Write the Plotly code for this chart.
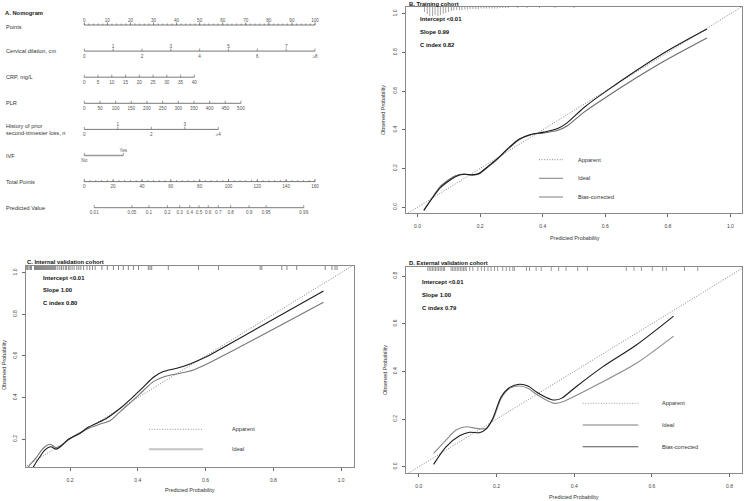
import numpy as np
import plotly.graph_objects as go

FONT = "Liberation Sans, Arial, sans-serif"

# ---------------- Nomogram (panel A) data ----------------
row_names = ["Points", "Cervical dilation, cm", "CRP, mg/L", "PLR",
             "History of prior<br>second-trimester loss, n", "IVF",
             "Total Points", "Predicted Value"]
points_major = list(range(0, 101, 10))
points_minor = list(range(0, 101, 2))
cervical_vals = [0, 1, 2, 3, 4, 5, 6, 7, 8]
cervical_labels = ["0", "1", "2", "3", "4", "5", "6", "7", "≥8"]
cervical_max_points = 100.0
crp_vals = [0, 5, 10, 15, 20, 25, 30, 35, 40]
crp_max_points = 47.7
plr_vals = [0, 50, 100, 150, 200, 250, 300, 350, 400, 450, 500]
plr_max_points = 67.9
history_vals = [0, 1, 2, 3, 4]
history_labels = ["0", "1", "2", "3", "≥4"]
history_max_points = 58.1
ivf_labels = ["No", "Yes"]
ivf_points = [0.0, 16.9]
total_major = list(range(0, 161, 20))
total_minor = list(range(0, 161, 4))
total_max = 160.0
pred_probs = [0.01, 0.05, 0.1, 0.2, 0.3, 0.4, 0.5, 0.6, 0.7, 0.8, 0.9, 0.95, 0.99]
pred_labels = ["0.01", "0.05", "0.1", "0.2", "0.3", "0.4", "0.5", "0.6", "0.7", "0.8", "0.9", "0.95", "0.99"]
pred_intercept = 79.55   # total points at logit = 0
pred_slope = 15.81       # total points per logit unit

# ---------------- Calibration data ----------------
# B. Training cohort
b_app_x = [0.020, 0.052, 0.073, 0.095, 0.121, 0.148, 0.175, 0.196, 0.223, 0.255, 0.292, 0.324,
           0.361, 0.404, 0.446, 0.478, 0.531, 0.595, 0.787, 0.925]
b_app_y = [-0.017, 0.058, 0.101, 0.130, 0.158, 0.170, 0.167, 0.174, 0.208, 0.251, 0.308, 0.351,
           0.376, 0.388, 0.405, 0.436, 0.514, 0.591, 0.797, 0.921]
b_bc_x = b_app_x
b_bc_y = [-0.015, 0.062, 0.108, 0.137, 0.163, 0.172, 0.167, 0.172, 0.205, 0.248, 0.305, 0.349,
          0.374, 0.384, 0.396, 0.420, 0.490, 0.561, 0.754, 0.875]
b_rug_x = [0.022, 0.031, 0.039, 0.048, 0.056, 0.065, 0.073, 0.082, 0.090, 0.099, 0.108, 0.116,
           0.125, 0.134, 0.142, 0.151, 0.160, 0.168, 0.177, 0.186, 0.194, 0.203, 0.212, 0.220,
           0.229, 0.238, 0.246, 0.255, 0.264, 0.272, 0.281, 0.290, 0.320, 0.350, 0.390, 0.440, 0.500]
b_rug_n = [10, 14, 18, 18, 16, 18, 16, 14, 12, 10, 8, 7, 6, 6, 6, 5, 5, 4, 4, 4, 4, 3, 3, 3,
           3, 3, 3, 3, 2, 2, 2, 2, 2, 2, 2, 2, 2]
b_stats = ["Intercept <0.01", "Slope 0.99", "C index 0.82"]

# C. Internal validation cohort
c_app_x = [0.085, 0.092, 0.111, 0.126, 0.143, 0.159, 0.175, 0.195, 0.230, 0.249, 0.279, 0.308,
           0.348, 0.387, 0.416, 0.446, 0.475, 0.515, 0.554, 0.604, 0.643, 0.948]
c_app_y = [0.045, 0.068, 0.116, 0.149, 0.164, 0.153, 0.169, 0.200, 0.229, 0.253, 0.277, 0.301,
           0.349, 0.405, 0.450, 0.498, 0.525, 0.541, 0.562, 0.597, 0.632, 0.912]
c_bc_x = [0.070, 0.077, 0.102, 0.121, 0.141, 0.159, 0.175, 0.195, 0.249, 0.289, 0.318, 0.348,
          0.387, 0.416, 0.446, 0.485, 0.525, 0.564, 0.643, 0.948]
c_bc_y = [0.050, 0.068, 0.116, 0.157, 0.176, 0.160, 0.172, 0.198, 0.248, 0.273, 0.289, 0.333,
          0.389, 0.433, 0.477, 0.504, 0.517, 0.533, 0.594, 0.858]
c_rug_x = [0.068, 0.072, 0.075, 0.079, 0.083, 0.086, 0.095, 0.098, 0.101, 0.104, 0.107, 0.110,
           0.113, 0.116, 0.119, 0.122, 0.125, 0.128, 0.131, 0.134, 0.137, 0.140, 0.143, 0.146,
           0.149, 0.152, 0.155, 0.158, 0.164, 0.170, 0.175, 0.180, 0.186, 0.190, 0.196, 0.200,
           0.206, 0.212, 0.220, 0.226, 0.232, 0.240, 0.250, 0.258, 0.266, 0.274, 0.294, 0.310,
           0.328, 0.343, 0.357, 0.372, 0.387, 0.402, 0.431, 0.436, 0.441, 0.490, 0.579, 0.638,
           0.761, 0.766, 0.825, 0.840, 0.869, 0.953, 0.973, 0.982, 0.988]
c_stats = ["Intercept <0.01", "Slope 1.00", "C index 0.80"]

# D. External validation cohort
d_app_x = [0.038, 0.070, 0.105, 0.131, 0.156, 0.173, 0.191, 0.212, 0.234, 0.259, 0.281, 0.302,
           0.328, 0.349, 0.367, 0.405, 0.474, 0.560, 0.656]
d_app_y = [0.010, 0.084, 0.130, 0.145, 0.143, 0.158, 0.205, 0.294, 0.333, 0.346, 0.339, 0.315,
           0.291, 0.280, 0.287, 0.336, 0.420, 0.511, 0.632]
d_bc_x = [0.038, 0.070, 0.096, 0.122, 0.148, 0.173, 0.191, 0.212, 0.234, 0.259, 0.281, 0.302,
          0.328, 0.349, 0.371, 0.474, 0.560, 0.656]
d_bc_y = [0.056, 0.112, 0.154, 0.168, 0.161, 0.161, 0.199, 0.287, 0.329, 0.339, 0.329, 0.305,
          0.280, 0.266, 0.273, 0.357, 0.434, 0.548]
d_rug_x = [0.023, 0.027, 0.031, 0.035, 0.039, 0.043, 0.047, 0.051, 0.055, 0.059, 0.063, 0.066,
           0.083, 0.087, 0.091, 0.095, 0.099, 0.103, 0.107, 0.111, 0.115, 0.119, 0.122, 0.131,
           0.139, 0.152, 0.161, 0.169, 0.178, 0.186, 0.195, 0.203, 0.216, 0.225, 0.234, 0.242,
           0.246, 0.277, 0.285, 0.302, 0.315, 0.341, 0.360, 0.379, 0.409, 0.434, 0.534, 0.554,
           0.573, 0.601, 0.628, 0.637, 0.684, 0.718]
d_stats = ["Intercept <0.01", "Slope 1.00", "C index 0.79"]

legend_names = ["Apparent", "Ideal", "Bias-corrected"]

# ---------------- Figure ----------------
W, H = 745, 501
fig = go.Figure()

BOX = "#8a8a8a"
TICKC = "#444"
DOTS = "1px,1.6px"

def px_x(p):
    return p / W

def px_y(p):
    return 1 - p / H

# ---- panel axes ----
panels = {
    "B": dict(xa="xaxis", ya="yaxis", xr="x", yr="y",
              xdom=[406, 742], ydom=[7, 213], xrange=[-0.037, 1.037], yrange=[-0.03, 1.035],
              xt=[0, 0.2, 0.4, 0.6, 0.8, 1.0], yt=[0, 0.2, 0.4, 0.6, 0.8, 1.0]),
    "C": dict(xa="xaxis2", ya="yaxis2", xr="x2", yr="y2",
              xdom=[26, 354], ydom=[266, 467], xrange=[0.07, 1.038], yrange=[0.067, 1.032],
              xt=[0.2, 0.4, 0.6, 0.8, 1.0], yt=[0.2, 0.4, 0.6, 0.8, 1.0]),
    "D": dict(xa="xaxis3", ya="yaxis3", xr="x3", yr="y3",
              xdom=[406, 742], ydom=[267, 473], xrange=[-0.033, 0.832], yrange=[-0.026, 0.838],
              xt=[0, 0.2, 0.4, 0.6, 0.8], yt=[0, 0.2, 0.4, 0.6, 0.8]),
}

layout_axes = {}
for key, p in panels.items():
    common = dict(showgrid=False, zeroline=False, showline=True, mirror=True,
                  linecolor=BOX, linewidth=1, ticks="outside", ticklen=3, tickwidth=0.8,
                  tickcolor=TICKC, tickfont=dict(family=FONT, size=5, color=TICKC))
    layout_axes[p["xa"]] = dict(common, domain=[px_x(p["xdom"][0]), px_x(p["xdom"][1])],
                                range=p["xrange"], anchor=p["yr"], tickvals=p["xt"],
                                ticktext=[f"{v:.1f}" for v in p["xt"]], ticklabelstandoff=5)
    layout_axes[p["ya"]] = dict(common, domain=[px_y(p["ydom"][1]), px_y(p["ydom"][0])],
                                range=p["yrange"], anchor=p["xr"], tickvals=p["yt"],
                                ticktext=[f"{v:.1f}" for v in p["yt"]], tickangle=-90,
                                ticklabelstandoff=3)

# nomogram axis: x in points units, y in row index
pts_per_px = 100 / 230.7
x0_px = 84.3
layout_axes["xaxis4"] = dict(domain=[0, px_x(330)], range=[-x0_px * pts_per_px, (330 - x0_px) * pts_per_px],
                             visible=False, anchor="y4", fixedrange=True)
row_px = 26.1
r0_px = 25.0
layout_axes["yaxis4"] = dict(domain=[px_y(235), 1], range=[(235 - r0_px) / row_px, -r0_px / row_px],
                             visible=False, anchor="x4", fixedrange=True)

annotations = []
shapes = []

# ---------------- Nomogram drawing ----------------
NOMO_LINE = "#555"
tick_up = 2.6 / row_px
tick_minor = 1.5 / row_px
lab_above = 4.6 / row_px
lab_below = 5.4 / row_px


def nomo_row(row, pos, labels, sides, minor=None, color=NOMO_LINE, width=0.8):
    fig.add_trace(go.Scatter(x=[min(pos), max(pos)], y=[row, row], mode="lines",
                             line=dict(color=color, width=width), xaxis="x4", yaxis="y4",
                             hoverinfo="skip", showlegend=False))
    tx, ty = [], []
    for p_ in pos:
        tx += [p_, p_, None]
        ty += [row, row - tick_up, None]
    if minor is not None:
        for p_ in minor:
            tx += [p_, p_, None]
            ty += [row, row - tick_minor, None]
    fig.add_trace(go.Scatter(x=tx, y=ty, mode="lines", line=dict(color=NOMO_LINE, width=0.6),
                             xaxis="x4", yaxis="y4", hoverinfo="skip", showlegend=False))
    lx, ly = [], []
    for p_, s in zip(pos, sides):
        lx.append(p_)
        ly.append(row - lab_above if s == "a" else row + lab_below)
    fig.add_trace(go.Scatter(x=lx, y=ly, mode="text", text=labels, textposition="middle center",
                             textfont=dict(family=FONT, size=4.6, color="#555"),
                             xaxis="x4", yaxis="y4", hoverinfo="skip", showlegend=False))


nomo_row(0, points_major, [str(v) for v in points_major], ["a"] * len(points_major),
         minor=points_minor)
cerv_pos = [v / max(cervical_vals) * cervical_max_points for v in cervical_vals]
nomo_row(1, cerv_pos, cervical_labels, ["b" if v % 2 == 0 else "a" for v in cervical_vals])
crp_pos = [v / max(crp_vals) * crp_max_points for v in crp_vals]
nomo_row(2, crp_pos, [str(v) for v in crp_vals], ["b"] * len(crp_vals))
plr_pos = [v / max(plr_vals) * plr_max_points for v in plr_vals]
nomo_row(3, plr_pos, [str(v) for v in plr_vals], ["b"] * len(plr_vals))
hist_pos = [v / max(history_vals) * history_max_points for v in history_vals]
nomo_row(4, hist_pos, history_labels, ["b" if v % 2 == 0 else "a" for v in history_vals])
nomo_row(5, ivf_points, ivf_labels, ["b", "a"], color="#999", width=1.4)
tot_scale = 100 / total_max
nomo_row(6, [v * tot_scale for v in total_major], [str(v) for v in total_major],
         ["b"] * len(total_major), minor=[v * tot_scale for v in total_minor])
logits = [np.log(p / (1 - p)) for p in pred_probs]
pred_pos = [(pred_intercept + pred_slope * l) * tot_scale for l in logits]
nomo_row(7, pred_pos, pred_labels, ["b"] * len(pred_probs))

for i, name in enumerate(row_names):
    yoff = 0.08 if i == 0 else 0.0
    annotations.append(dict(x=4 / W, xref="paper", y=i + yoff, yref="y4", text=name,
                            showarrow=False, xanchor="left", yanchor="middle", align="left",
                            font=dict(family=FONT, size=5.6, color="#333")))
annotations.append(dict(x=3 / W, xref="paper", y=px_y(13), yref="paper", text="<b>A. Nomogram</b>",
                        showarrow=False, xanchor="left", yanchor="middle",
                        font=dict(family=FONT, size=5.8, color="#222")))

# ---------------- Calibration panels ----------------
cal = {
    "B": dict(app=(b_app_x, b_app_y), bc=(b_bc_x, b_bc_y), app_col="#1a1a1a", bc_col="#6a6a6a",
              title="B. Training cohort", stats=b_stats, title_px=(407, 4),
              stat_px=(418, [19, 32, 45]), rug_col="#666",
              leg=dict(x=[539, 563], ys=[159.7, 178.3, 197], tx=576, n=3,
                       cols=["#777", "#8a8a8a", "#8a8a8a"], widths=[0.9, 1.1, 1.1]),
              xt_px=(575, 238), yt_px=(383, 110)),
    "C": dict(app=(c_app_x, c_app_y), bc=(c_bc_x, c_bc_y), app_col="#1a1a1a", bc_col="#777",
              title="C. Internal validation cohort", stats=c_stats, title_px=(25, 262),
              stat_px=(41, [277.7, 290, 302.7]), rug_col="#333",
              leg=dict(x=[149, 203], ys=[429.3, 449.3], tx=230, n=2,
                       cols=["#888", "#c4c4c4"], widths=[0.9, 2.0]),
              xt_px=(190, 490), yt_px=(4, 365)),
    "D": dict(app=(d_app_x, d_app_y), bc=(d_bc_x, d_bc_y), app_col="#1a1a1a", bc_col="#8a8a8a",
              title="D. External validation cohort", stats=d_stats, title_px=(407, 263.3),
              stat_px=(420, [281.7, 295.3, 308]), rug_col="#555",
              leg=dict(x=[582.7, 638.3], ys=[403.3, 425, 446.7], tx=660, n=3,
                       cols=["#999", "#bdbdbd", "#555"], widths=[0.9, 1.8, 1.1]),
              xt_px=(574, 496.7), yt_px=(385, 370)),
}
rugs = {"B": (b_rug_x, b_rug_n), "C": (c_rug_x, None), "D": (d_rug_x, None)}

for key, c in cal.items():
    p = panels[key]
    xr, yr = p["xr"], p["yr"]
    lo = min(p["xrange"][0], p["yrange"][0])
    hi = max(p["xrange"][1], p["yrange"][1])
    fig.add_trace(go.Scatter(x=[lo, hi], y=[lo, hi], mode="lines",
                             line=dict(color="#666", width=0.8, dash=DOTS),
                             xaxis=xr, yaxis=yr, hoverinfo="skip", showlegend=False))
    fig.add_trace(go.Scatter(x=c["bc"][0], y=c["bc"][1], mode="lines",
                             line=dict(color=c["bc_col"], width=1.1, shape="spline", smoothing=0.8),
                             xaxis=xr, yaxis=yr, hoverinfo="skip", showlegend=False))
    fig.add_trace(go.Scatter(x=c["app"][0], y=c["app"][1], mode="lines",
                             line=dict(color=c["app_col"], width=1.1, shape="spline", smoothing=0.8),
                             xaxis=xr, yaxis=yr, hoverinfo="skip", showlegend=False))
    ytop = p["yrange"][1]
    yspan = p["yrange"][1] - p["yrange"][0]
    plot_h = p["ydom"][1] - p["ydom"][0]
    rx, rn = rugs[key]
    sx, sy = [], []
    for i, v in enumerate(rx):
        length_px = (rn[i] * 0.5) if rn is not None else 4.0
        sx += [v, v, None]
        sy += [ytop, ytop - length_px / plot_h * yspan, None]
    fig.add_trace(go.Scatter(x=sx, y=sy, mode="lines", line=dict(color=c["rug_col"], width=0.6),
                             xaxis=xr, yaxis=yr, hoverinfo="skip", showlegend=False))
    lg = c["leg"]
    for j in range(lg["n"]):
        ypx = lg["ys"][j]
        shapes.append(dict(type="line", xref="paper", yref="paper",
                           x0=px_x(lg["x"][0]), x1=px_x(lg["x"][1]), y0=px_y(ypx), y1=px_y(ypx),
                           line=dict(color=lg["cols"][j], width=lg["widths"][j],
                                     dash=DOTS if j == 0 else "solid")))
        annotations.append(dict(x=px_x(lg["tx"]), y=px_y(ypx), xref="paper", yref="paper",
                                text=legend_names[j], showarrow=False, xanchor="left",
                                yanchor="middle", font=dict(family=FONT, size=5.6, color="#333")))
    for j, s in enumerate(c["stats"]):
        annotations.append(dict(x=px_x(c["stat_px"][0]), y=px_y(c["stat_px"][1][j]),
                                xref="paper", yref="paper", text=f"<b>{s}</b>", showarrow=False,
                                xanchor="left", yanchor="middle",
                                font=dict(family=FONT, size=5.9, color="#111")))
    annotations.append(dict(x=px_x(c["title_px"][0]), y=px_y(c["title_px"][1]), xref="paper",
                            yref="paper", text=f"<b>{c['title']}</b>", showarrow=False,
                            xanchor="left", yanchor="middle",
                            font=dict(family=FONT, size=5.8, color="#111")))
    annotations.append(dict(x=px_x(c["xt_px"][0]), y=px_y(c["xt_px"][1]), xref="paper",
                            yref="paper", text="Predicted Probability", showarrow=False,
                            xanchor="center", yanchor="middle",
                            font=dict(family=FONT, size=5.4, color="#333")))
    annotations.append(dict(x=px_x(c["yt_px"][0]), y=px_y(c["yt_px"][1]), xref="paper",
                            yref="paper", text="Observed Probability", showarrow=False,
                            textangle=-90, xanchor="center", yanchor="middle",
                            font=dict(family=FONT, size=5.4, color="#333")))

fig.update_layout(
    width=W, height=H, margin=dict(l=0, r=0, t=0, b=0),
    paper_bgcolor="white", plot_bgcolor="white",
    showlegend=False, annotations=annotations, shapes=shapes,
    font=dict(family=FONT), hovermode=False,
    **layout_axes,
)

fig.write_html("out.html", config={"displayModeBar": False, "staticPlot": True},
               post_script="document.body.style.margin='0';document.body.style.padding='0';"
                           "document.documentElement.style.overflow='hidden';")
